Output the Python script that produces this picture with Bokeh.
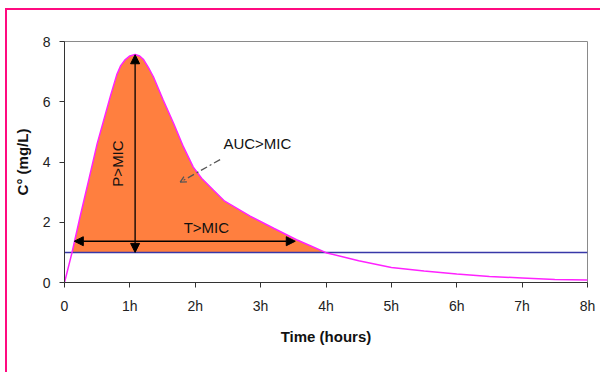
import numpy as np
from bokeh.plotting import figure
from bokeh.models import Range1d, FixedTicker, Arrow, NormalHead, OpenHead, ColumnDataSource
from bokeh.core.properties import value
from bokeh.embed import file_html
from bokeh.resources import INLINE

# Concentration curve (hours, mg/L)
time_h = [0, 0.11, 0.24, 0.37, 0.5, 0.6, 0.7, 0.8, 0.86, 0.93, 1.0, 1.08, 1.15, 1.21, 1.28,
          1.36, 1.51, 1.67, 1.82, 1.97, 2.1, 2.28, 2.45, 2.84, 3.2, 3.55, 3.76, 4.0, 4.5,
          5.0, 5.5, 6.0, 6.5, 7.0, 7.5, 8.0]
conc = [0, 0.95, 2.2, 3.4, 4.61, 5.39, 6.17, 6.9, 7.2, 7.4, 7.52, 7.57, 7.52, 7.4, 7.15,
        6.83, 6.06, 5.28, 4.5, 3.83, 3.45, 3.06, 2.7, 2.2, 1.8, 1.42, 1.22, 0.99, 0.72,
        0.5, 0.38, 0.28, 0.2, 0.15, 0.1, 0.08]
mic = 1.0
x_ticks = [0, 1, 2, 3, 4, 5, 6, 7, 8]
x_tick_labels = ["0", "1h", "2h", "3h", "4h", "5h", "6h", "7h", "8h"]
y_ticks = [0, 2, 4, 6, 8]

# annotation anchors
peak_t, peak_c = 1.08, 7.56
t_start, t_end, t_arrow_y = 0.15, 3.53, 1.37

FONT = "Liberation Sans"
PINK = "#FF0A80"

W, H = 600, 372
p = figure(width=W, height=H, output_backend="svg", toolbar_location=None,
           x_range=Range1d(0, 8), y_range=Range1d(0, 8),
           min_border_left=64, min_border_right=13, min_border_top=41, min_border_bottom=90)

# pink frame lines (top and left) drawn as the page background behind a transparent border
p.border_fill_color = None
p.border_fill_alpha = 0
p.styles = {
    "background-color": "white",
    "background-image": f"linear-gradient({PINK},{PINK}), linear-gradient({PINK},{PINK})",
    "background-size": "595px 2px, 2px 364px",
    "background-position": "5px 8px, 5px 8px",
    "background-repeat": "no-repeat",
}

p.xgrid.visible = False
p.ygrid.visible = False
p.outline_line_color = "#8a8a8a"
p.outline_line_width = 1
p.background_fill_color = "white"

# fill above MIC
tt = np.array(time_h, dtype=float)
cc = np.array(conc, dtype=float)
mask = cc >= mic
fill_t = [0.115] + list(tt[mask]) + [4.0]
fill_c = [mic] + list(cc[mask]) + [mic]
src_fill = ColumnDataSource(dict(x=fill_t, y1=[mic] * len(fill_t), y2=fill_c))
p.varea(x="x", y1="y1", y2="y2", source=src_fill, fill_color="#FF7F3F")

p.line([0, 8], [mic, mic], line_color="#3838A8", line_width=1.5)
p.line(time_h, conc, line_color="#FF22FF", line_width=1.5)

# arrows
p.add_layout(Arrow(x_start=peak_t, y_start=mic, x_end=peak_t, y_end=peak_c,
                   line_color="black", line_width=1.3,
                   start=NormalHead(size=9, fill_color="black", line_color="black"),
                   end=NormalHead(size=9, fill_color="black", line_color="black")))
p.add_layout(Arrow(x_start=t_start, y_start=t_arrow_y, x_end=t_end, y_end=t_arrow_y,
                   line_color="black", line_width=1.3,
                   start=NormalHead(size=9, fill_color="black", line_color="black"),
                   end=NormalHead(size=9, fill_color="black", line_color="black")))
p.add_layout(Arrow(x_start=2.38, y_start=4.08, x_end=1.77, y_end=3.33,
                   line_color="#555555", line_width=1.3, line_dash="7 3 2 3",
                   end=OpenHead(size=6, line_color="#555555", line_width=1.3)))

p.text(x=[0.81], y=[3.95], text=["P>MIC"], angle=np.pi / 2, text_align="center",
       text_baseline="middle", text_font=value(FONT), text_font_size="15px", text_color="#111111")
p.text(x=[2.17], y=[1.83], text=["T>MIC"], text_align="center",
       text_baseline="middle", text_font=value(FONT), text_font_size="15px", text_color="#111111")
p.text(x=[2.95], y=[4.61], text=["AUC>MIC"], text_align="center",
       text_baseline="middle", text_font=value(FONT), text_font_size="15px", text_color="#111111")

# axes
for ax in (p.xaxis[0], p.yaxis[0]):
    ax.axis_line_color = "#333333"
    ax.major_tick_line_color = "#333333"
    ax.major_tick_out = 5
    ax.major_tick_in = 0
    ax.minor_tick_line_color = None
    ax.major_label_text_font = FONT
    ax.major_label_text_font_size = "14px"
    ax.major_label_text_color = "#222222"
    ax.axis_label_text_font = FONT
    ax.axis_label_text_font_size = "15px"
    ax.axis_label_text_font_style = "bold"
    ax.axis_label_text_color = "#111111"

p.xaxis.ticker = FixedTicker(ticks=x_ticks)
p.xaxis.major_label_overrides = {t: l for t, l in zip(x_ticks, x_tick_labels)}
p.xaxis.major_label_standoff = 10
p.xaxis.axis_label = "Time (hours)"
p.xaxis.axis_label_standoff = 11

p.yaxis.ticker = FixedTicker(ticks=y_ticks)
p.yaxis.major_label_standoff = 9
p.yaxis.axis_label = "C° (mg/L)"
p.yaxis.axis_label_standoff = 9

open("out.html", "w").write(file_html(p, INLINE))
